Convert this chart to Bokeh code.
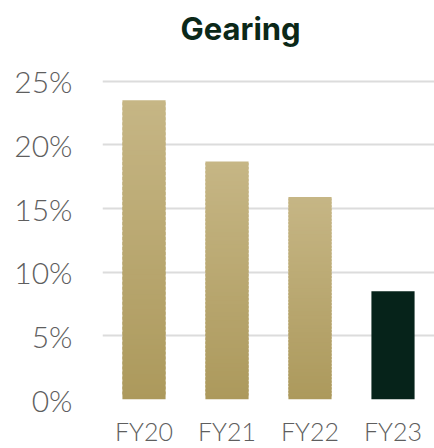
import numpy as np
from bokeh.plotting import figure
from bokeh.models import ColumnDataSource, FactorRange, NumeralTickFormatter, FixedTicker, Range1d
from bokeh.embed import file_html
from bokeh.resources import INLINE

categories = ["FY20", "FY21", "FY22", "FY23"]
gearing = [23.5, 18.7, 15.9, 8.5]
y_ticks = [0, 5, 10, 15, 20, 25]

gold_top = (198, 182, 133)
gold_bottom = (172, 153, 92)
dark = "#06231a"
label_font = "'Lato Light', 'DejaVu Sans ExtraLight', Lato"

p = figure(width=434, height=448, x_range=FactorRange(*categories, range_padding=0),
           y_range=Range1d(0, 27.41), output_backend="svg", toolbar_location=None,
           min_border_left=102, min_border_right=0, min_border_top=50, min_border_bottom=46)

# gradient bars: stacked slices per bar (style only)
n = 60
xs, bottoms, tops, colors = [], [], [], []
for c, v in zip(categories, gearing):
    if c == "FY23":
        xs.append(c); bottoms.append(0); tops.append(v); colors.append(dark)
        continue
    for i in range(n):
        t = (i + 0.5) / n
        r = [int(round(gold_bottom[k] + (gold_top[k] - gold_bottom[k]) * t)) for k in range(3)]
        xs.append(c); bottoms.append(v * i / n)
        tops.append(v if i == n - 1 else v * (i + 1) / n + v * 0.01)
        colors.append("#%02x%02x%02x" % tuple(r))
src = ColumnDataSource(dict(x=xs, bottom=bottoms, top=tops, color=colors))
p.vbar(x="x", bottom="bottom", top="top", width=0.52, color="color", line_color=None, source=src)

p.title.text = "Gearing"
p.title.text_font = "Inter"
p.title.text_font_size = "31px"
p.title.text_font_style = "bold"
p.title.text_color = "#0b2818"
p.title.align = "left"
p.title.offset = 78
p.title.standoff = 8

p.outline_line_color = None
p.background_fill_color = "white"
p.border_fill_color = "white"

p.xgrid.grid_line_color = None
p.ygrid.grid_line_color = "#dcdcdc"
p.ygrid.grid_line_width = 2
p.yaxis.ticker = FixedTicker(ticks=y_ticks)
p.yaxis.formatter = NumeralTickFormatter(format="0")
p.yaxis.major_label_overrides = {t: f"{t}%" for t in y_ticks}

for ax in (p.xaxis, p.yaxis):
    ax.axis_line_color = None
    ax.major_tick_line_color = None
    ax.minor_tick_line_color = None
    ax.major_label_text_color = "#5e5e5e"
    ax.major_label_text_font = label_font

p.yaxis.major_label_text_font_size = "30px"
p.yaxis.major_label_standoff = 24
p.xaxis.major_label_text_font_size = "25px"
p.xaxis.major_label_standoff = 10

open("out.html", "w").write(file_html(p, INLINE))
